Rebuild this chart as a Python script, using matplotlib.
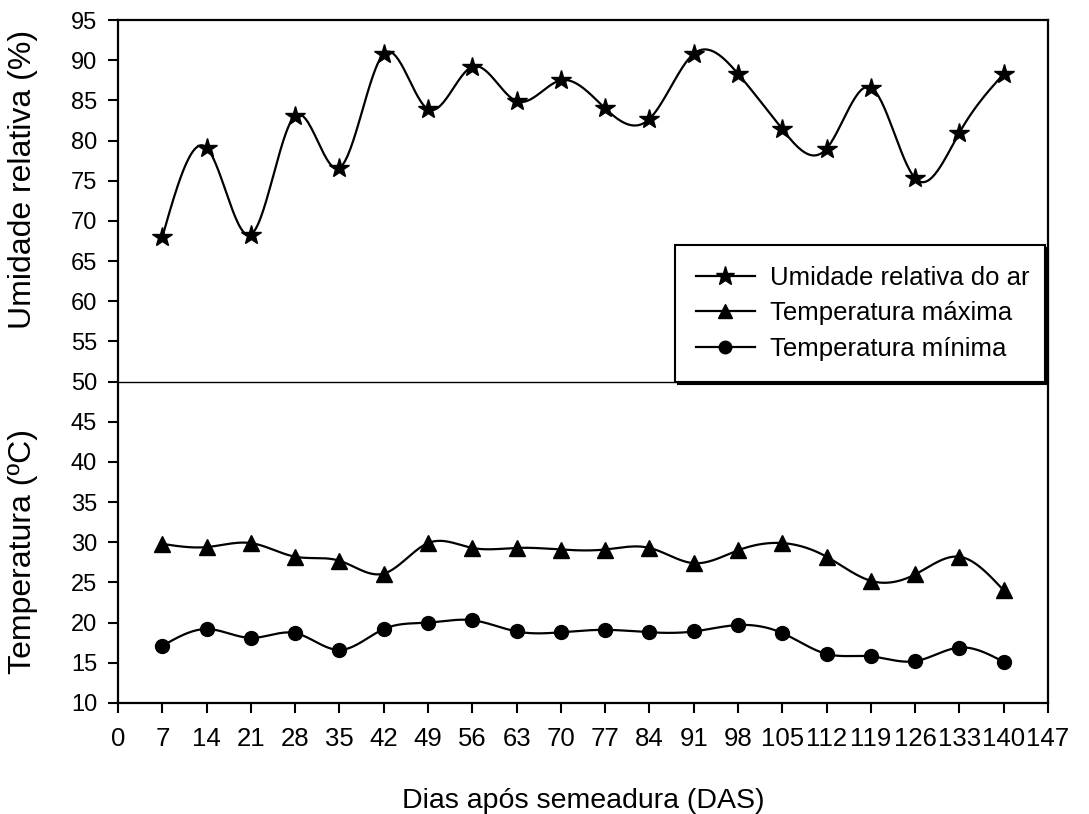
import numpy as np
import matplotlib
matplotlib.use("Agg")
import matplotlib.pyplot as plt
from matplotlib.ticker import MultipleLocator

plt.rcParams['font.family'] = ['Liberation Sans', 'DejaVu Sans']

# Dias após semeadura
das = [7, 14, 21, 28, 35, 42, 49, 56, 63, 70, 77, 84, 91, 98, 105, 112, 119, 126, 133, 140]

umidade = [68.0, 79.1, 68.3, 83.1, 76.6, 90.8, 83.9, 89.2, 84.9, 87.5,
           84.0, 82.7, 90.8, 88.3, 81.4, 79.0, 86.6, 75.3, 81.0, 88.3]
temp_max = [29.8, 29.4, 29.9, 28.2, 27.7, 26.1, 29.9, 29.3, 29.3, 29.1,
            29.1, 29.3, 27.4, 29.0, 29.9, 28.2, 25.2, 26.0, 28.2, 24.0]
temp_min = [17.1, 19.2, 18.1, 18.7, 16.6, 19.2, 20.0, 20.3, 18.9, 18.8,
            19.1, 18.8, 18.9, 19.7, 18.7, 16.1, 15.8, 15.2, 16.9, 15.1]

xticks = list(range(0, 148, 7))


def spline(x, y, n=600):
    """Natural cubic spline through (x, y), sampled on n points."""
    x = np.asarray(x, float)
    y = np.asarray(y, float)
    k = len(x)
    h = np.diff(x)
    A = np.zeros((k, k))
    r = np.zeros(k)
    A[0, 0] = A[-1, -1] = 1.0
    for i in range(1, k - 1):
        A[i, i - 1] = h[i - 1]
        A[i, i] = 2 * (h[i - 1] + h[i])
        A[i, i + 1] = h[i]
        r[i] = 3 * ((y[i + 1] - y[i]) / h[i] - (y[i] - y[i - 1]) / h[i - 1])
    c = np.linalg.solve(A, r)
    b = (y[1:] - y[:-1]) / h - h * (2 * c[:-1] + c[1:]) / 3
    d = (c[1:] - c[:-1]) / (3 * h)
    xs = np.linspace(x[0], x[-1], n)
    idx = np.clip(np.searchsorted(x, xs) - 1, 0, k - 2)
    t = xs - x[idx]
    ys = y[idx] + b[idx] * t + c[idx] * t ** 2 + d[idx] * t ** 3
    return xs, ys


fig = plt.figure(figsize=(10.89, 8.14), dpi=100)
ax = fig.add_axes([0.1084, 0.1364, 0.8540, 0.8390])

series = [
    (umidade, '*', 15, 'Umidade relativa do ar'),
    (temp_max, '^', 11, 'Temperatura máxima'),
    (temp_min, 'o', 10, 'Temperatura mínima'),
]
handles = []
for vals, mk, ms, label in series:
    xs, ys = spline(das, vals)
    ax.plot(xs, ys, color='black', lw=1.6, zorder=2)
    ax.plot(das, vals, ls='none', marker=mk, ms=ms, color='black', zorder=3)
    h, = ax.plot([], [], color='black', lw=1.6, marker=mk, ms=ms - 1, label=label)
    handles.append(h)

ax.axhline(50, color='black', lw=1.0, zorder=1)

ax.set_xlim(0, 147)
ax.set_ylim(10, 95)
ax.set_xticks(xticks)
ax.yaxis.set_major_locator(MultipleLocator(5))
ax.tick_params(direction='out', length=7, width=1.5)
ax.tick_params(axis='x', labelsize=18.5, pad=10)
ax.tick_params(axis='y', labelsize=17, pad=8)
for s in ax.spines.values():
    s.set_linewidth(1.6)

ax.set_xlabel('Dias após semeadura (DAS)', fontsize=20.5, labelpad=27)

fig.text(0.021, 0.779, 'Umidade relativa (%)', rotation=90, fontsize=23,
         ha='center', va='center')
fig.text(0.021, 0.322, 'Temperatura (ºC)', rotation=90, fontsize=23,
         ha='center', va='center')

leg = ax.legend(handles=handles, loc='lower left',
                bbox_to_anchor=(0.599, 0.4706, 0.398, 0.2), mode='expand',
                fontsize=18.5, frameon=True, fancybox=False, framealpha=1,
                edgecolor='black', borderpad=0.8, handlelength=2.3,
                labelspacing=0.45, handletextpad=0.6, borderaxespad=0,
                shadow={'color': 'black', 'alpha': 1})
leg.get_frame().set_linewidth(1.5)
leg.set_zorder(5)

fig.savefig('out.png', dpi=100)
